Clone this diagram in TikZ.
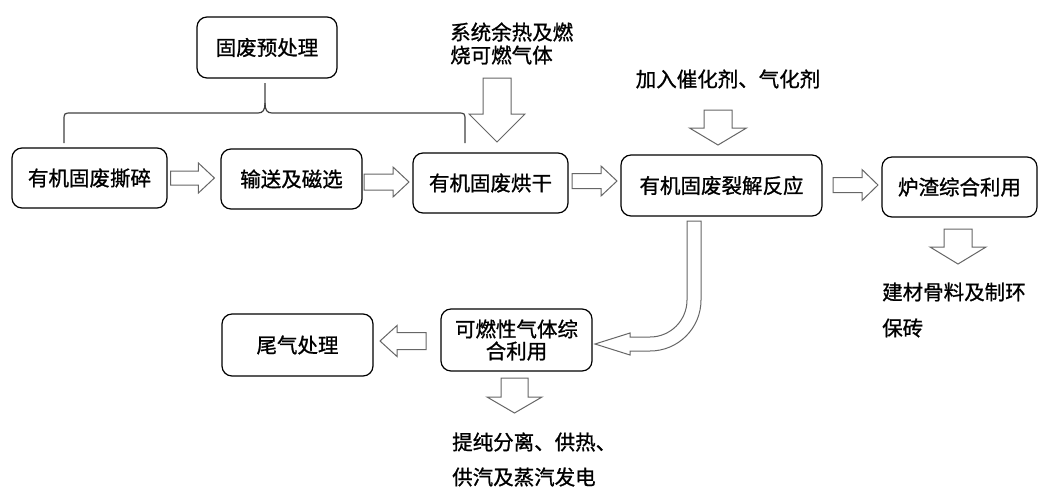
\documentclass[tikz,border=0pt]{standalone}
\usepackage{fontspec}
\setmainfont{Noto Sans CJK SC}[FakeBold=1]
\usetikzlibrary{calc}
\tikzset{
  box/.style={draw=black, line width=1.2pt, rounded corners=10pt, minimum width=#1, minimum height=60pt, inner sep=0pt, font=\fontsize{20.5}{23}\selectfont},
  box/.default=150pt,
  lbl/.style={inner sep=0pt, align=left, font=\fontsize{20.5}{23}\selectfont},
  blk/.style={draw=black!60, line width=1pt, fill=white, line join=miter},
  brace/.style={draw=black!75, line width=1.2pt}
}
\newcommand\barrow[5]{%
  \path ($(#2)!#5!(#1)$) coordinate (hb);
  \draw[blk] ($(#1)!#3!90:(#2)$) -- ($(hb)!#3!90:(#2)$) -- ($(hb)!#4!90:(#2)$) -- (#2)
    -- ($(hb)!#4!-90:(#2)$) -- ($(hb)!#3!-90:(#2)$) -- ($(#1)!#3!-90:(#2)$) -- cycle;}
\begin{document}
\begin{tikzpicture}[x=1pt,y=-1pt]
\useasboundingbox (0,0) rectangle (1048,499);
% boxes
\node[box=140pt, minimum height=61pt] (pre) at (267,47.5) {固废预处理};
\node[box=155pt] (shred) at (89.5,178) {有机固废撕碎};
\node[box=141pt] (conv) at (291.5,179) {输送及磁选};
\node[box=155pt] (dry) at (490.5,183) {有机固废烘干};
\node[box=201pt, minimum height=61pt] (pyro) at (721.5,185.5) {有机固废裂解反应};
\node[box=155pt] (slag) at (959.5,187) {炉渣综合利用};
\node[box=151pt, minimum height=62pt] (tailgas) at (297.5,345) {尾气处理};
\node[box=151pt, minimum height=62pt, align=center, font=\fontsize{20.5}{22}\selectfont] (gas) at (516.5,340) {可燃性气体综\\合利用};
% free labels
\node[lbl, anchor=west] (heat) at (450,43.5) {系统余热及燃\\烧可燃气体};
\node[lbl] (cat) at (728,79) {加入催化剂、气化剂};
\node[lbl, anchor=west, font=\fontsize{20.5}{35}\selectfont] (use) at (452,459.5) {提纯分离、供热、\\供汽及蒸汽发电};
\node[lbl, anchor=west, font=\fontsize{20.5}{36}\selectfont] (build) at (882,310) {建材骨料及制环\\保砖};
% brace
\draw[brace] (64,143) -- (64,121) .. controls (64,113) .. (72,113) -- (258,113)
  .. controls (263,113) and (265,110) .. (265,103) -- (265,83);
\draw[brace] (465,143) -- (465,121) .. controls (465,113) .. (457,113) -- (272,113)
  .. controls (267,113) and (265,110) .. (265,103);
% horizontal block arrows
\coordinate (a1s) at ($(shred.east)+(3,0)$);
\coordinate (a1e) at ($(conv.west)+(-6,-1)$);
\barrow{a1s}{a1e}{7pt}{15pt}{16pt}
\coordinate (a2s) at (364,182);
\coordinate (a2e) at (409,182);
\barrow{a2s}{a2e}{8pt}{15pt}{16pt}
\coordinate (a3s) at (572,181);
\coordinate (a3e) at (617,181);
\barrow{a3s}{a3e}{7.5pt}{15pt}{16pt}
\coordinate (a4s) at (833,185);
\coordinate (a4e) at (878,185);
\barrow{a4s}{a4e}{7.5pt}{15.5pt}{16pt}
\coordinate (a5s) at (426,341);
\coordinate (a5e) at (380,341);
\barrow{a5s}{a5e}{8.5pt}{15.5pt}{17pt}
% vertical block arrows
\coordinate (d1s) at (497,78);
\coordinate (d1e) at (497,142);
\barrow{d1s}{d1e}{14pt}{28pt}{28pt}
\coordinate (d2s) at (718,110);
\coordinate (d2e) at (718,145);
\barrow{d2s}{d2e}{14pt}{28.5pt}{17pt}
\coordinate (d3s) at (958,229);
\coordinate (d3e) at (958,264);
\barrow{d3s}{d3e}{14pt}{28pt}{17pt}
\coordinate (d4s) at (514.5,378);
\coordinate (d4e) at (514.5,413);
\barrow{d4s}{d4e}{13.5pt}{27.5pt}{16pt}
% curved arrow from pyrolysis to gas
\draw[blk] (687,221) -- (701,221) -- (701,300)
  .. controls (701,328.2) and (678.2,351) .. (650,351) -- (630,351) -- (630,355)
  -- (595,344) -- (630,333) -- (630,337) -- (650,337)
  .. controls (670.4,337) and (687,320.4) .. (687,300) -- cycle;
\end{tikzpicture}
\end{document}
